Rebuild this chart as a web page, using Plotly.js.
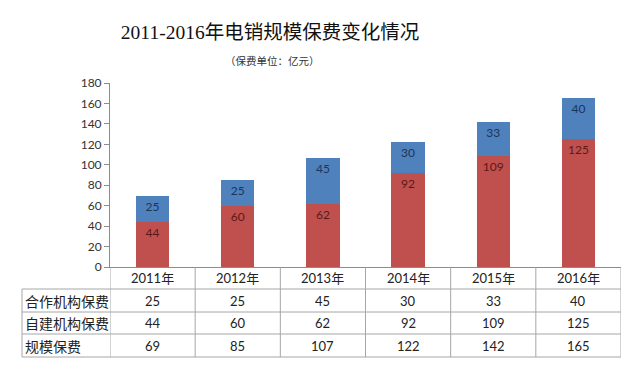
<!DOCTYPE html>
<html>
<head>
<meta charset="utf-8">
<script src="https://cdn.plot.ly/plotly-3.0.1.min.js"></script>
<style>
html,body{margin:0;padding:0;background:#fff;}
#chart{width:640px;height:370px;}
</style>
</head>
<body>
<div id="chart"></div>
<script>
const years = ['2011年','2012年','2013年','2014年','2015年','2016年'];
const coopPremium = [25, 25, 45, 30, 33, 40];      // 合作机构保费
const ownPremium = [44, 60, 62, 92, 109, 125];     // 自建机构保费
const totalPremium = [69, 85, 107, 122, 142, 165]; // 规模保费
const rowLabels = ['合作机构保费', '自建机构保费', '规模保费'];
const yTicks = [0, 20, 40, 60, 80, 100, 120, 140, 160, 180];
const titleText = '2011-2016年电销规模保费变化情况';
const subtitleText = '（保费单位：亿元）';

const W = 640, H = 370;
const M = {l: 110, r: 19, t: 83, b: 103};
const plotH = H - M.t - M.b;
const plotW = W - M.l - M.r;
const pyOf = px => -(px - (H - M.b)) / plotH; // pixel row -> paper y
const pxOf = px => (px - M.l) / plotW;         // pixel column -> paper x
const tableLeft = pxOf(22);

const numFont = 'Lato, "Noto Sans CJK SC", sans-serif';
const cjkFont = '"Noto Sans CJK SC", sans-serif';
const lineCol = '#a6a6a6';

const traces = [
  {
    type: 'bar', x: years, y: ownPremium, name: rowLabels[1],
    marker: {color: '#C0504D'}, width: 0.39,
    text: ownPremium.map(String), textposition: 'inside', insidetextanchor: 'end',
    textfont: {family: numFont, size: 12, color: '#5a1a1a'},
    hoverinfo: 'skip'
  },
  {
    type: 'bar', x: years, y: coopPremium, name: rowLabels[0],
    marker: {color: '#4F81BD'}, width: 0.39,
    text: coopPremium.map(String), textposition: 'inside', insidetextanchor: 'end',
    textfont: {family: numFont, size: 12, color: '#1c3558'},
    hoverinfo: 'skip'
  }
];

const rowCenters = [278, 300.5, 323, 345.5];
const rowLines = [289, 312, 334, 357];
const annotations = [];
years.forEach((yr, i) => {
  annotations.push({x: yr, xref: 'x', y: pyOf(rowCenters[0]), yref: 'paper', text: yr,
    showarrow: false, yanchor: 'middle', font: {family: numFont, size: 13, color: '#222'}});
});
const rows = [coopPremium, ownPremium, totalPremium];
rows.forEach((vals, r) => {
  annotations.push({x: tableLeft, xref: 'paper', xanchor: 'left', xshift: 1,
    y: pyOf(rowCenters[r + 1]), yref: 'paper', yanchor: 'middle', text: rowLabels[r],
    showarrow: false, font: {family: cjkFont, size: 14, color: '#222'}});
  vals.forEach((v, i) => {
    annotations.push({x: years[i], xref: 'x', y: pyOf(rowCenters[r + 1]), yref: 'paper',
      text: String(v), showarrow: false, yanchor: 'middle',
      font: {family: numFont, size: 13, color: '#222'}});
  });
});
annotations.push({x: pxOf(272), xref: 'paper', xanchor: 'center', y: pyOf(60), yref: 'paper',
  yanchor: 'middle', text: subtitleText, showarrow: false,
  font: {family: cjkFont, size: 10.5, color: '#333'}});

const shapes = [];
rowLines.forEach(py => {
  shapes.push({type: 'line', xref: 'paper', yref: 'paper', x0: tableLeft, x1: 1,
    y0: pyOf(py), y1: pyOf(py), line: {color: lineCol, width: 1}});
});
for (let k = 0; k <= years.length; k++) {
  shapes.push({type: 'line', xref: 'x', yref: 'paper', x0: k - 0.5, x1: k - 0.5,
    y0: 0, y1: pyOf(357), line: {color: lineCol, width: 1}});
}
shapes.push({type: 'line', xref: 'paper', yref: 'paper', x0: tableLeft, x1: tableLeft,
  y0: pyOf(289), y1: pyOf(357), line: {color: lineCol, width: 1}});

const layout = {
  width: W, height: H,
  margin: M,
  paper_bgcolor: '#fff', plot_bgcolor: '#fff',
  barmode: 'stack',
  showlegend: false,
  title: {text: titleText, x: 270 / W, xanchor: 'center', y: 1 - 32 / H, yanchor: 'middle',
    font: {family: '"Liberation Serif", "Noto Sans CJK SC", serif', size: 19.5, color: '#111'}},
  xaxis: {type: 'category', range: [-0.5, 5.5], showticklabels: false, ticks: '',
    showline: true, linecolor: '#8c8c8c', linewidth: 1, showgrid: false, zeroline: false,
    fixedrange: true},
  yaxis: {range: [0, 180], tickvals: yTicks, ticks: 'outside', ticklen: 5, tickcolor: '#8c8c8c',
    showline: true, linecolor: '#8c8c8c', linewidth: 1, showgrid: false, zeroline: false,
    tickfont: {family: numFont, size: 12, color: '#333'}, fixedrange: true},
  annotations: annotations,
  shapes: shapes
};

Plotly.newPlot('chart', traces, layout, {displayModeBar: false, staticPlot: true});
</script>
</body>
</html>
